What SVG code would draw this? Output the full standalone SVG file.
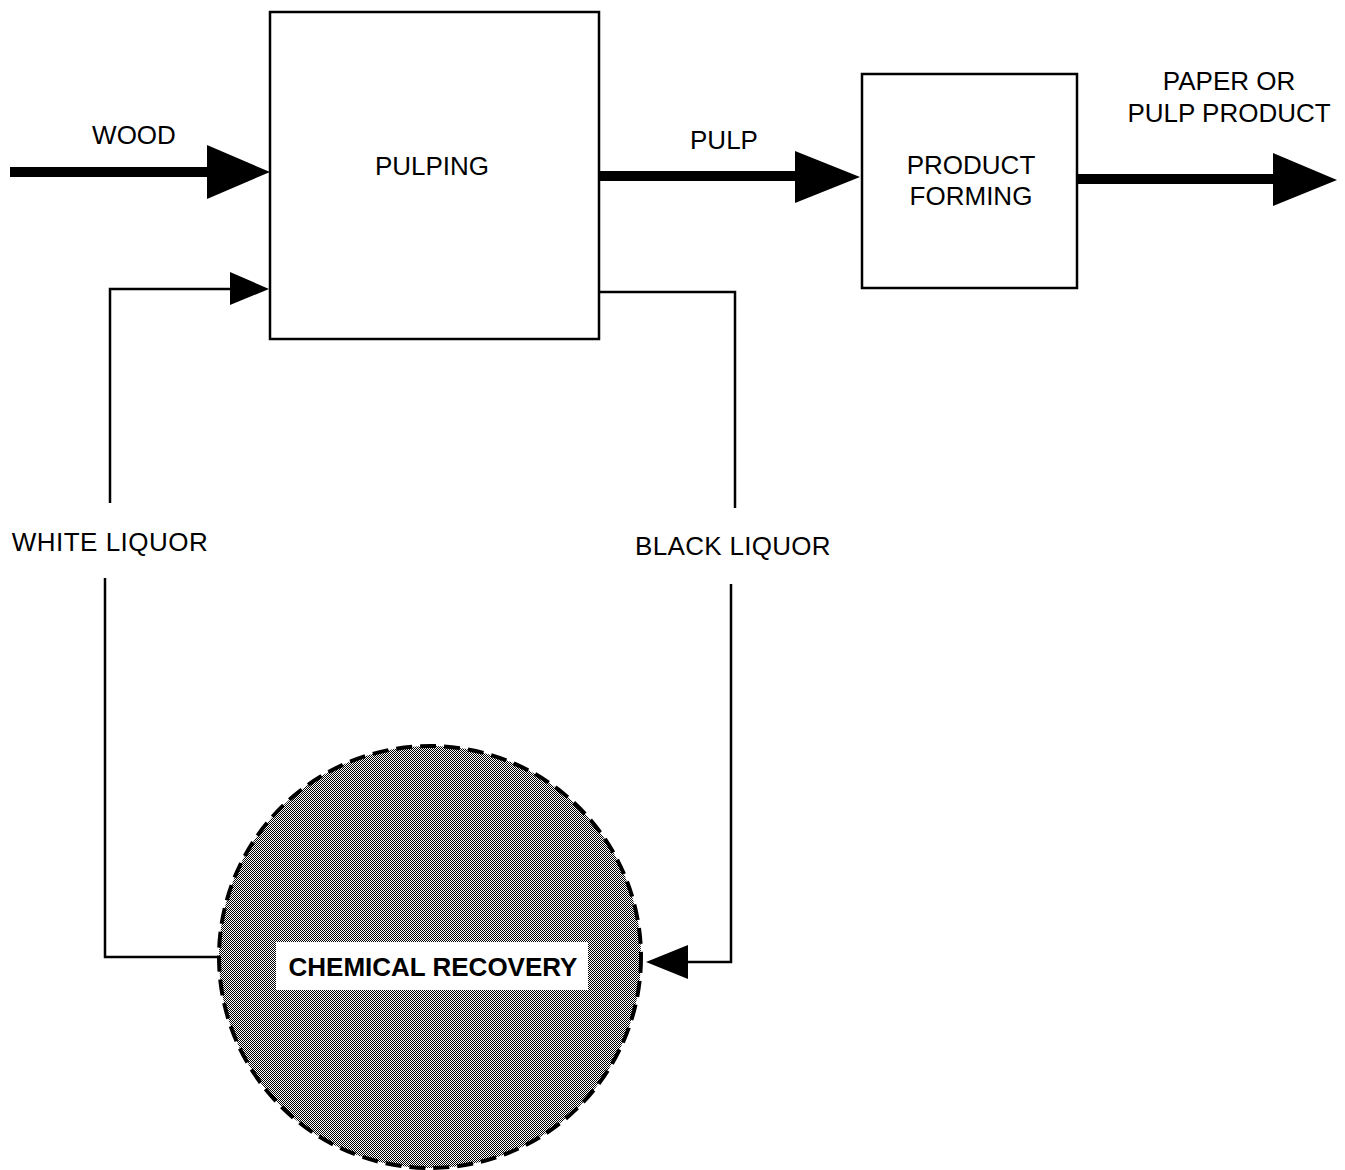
<svg xmlns="http://www.w3.org/2000/svg" width="1345" height="1170" viewBox="0 0 1345 1170">
<style>
text{font-family:"Liberation Sans",Arial,sans-serif;font-size:26px;fill:#000;text-anchor:middle}
.box{fill:#fff;stroke:#000;stroke-width:2.5}
.thick{stroke:#000;stroke-width:10;fill:none}
.thin{stroke:#000;stroke-width:2.5;fill:none}
.head{fill:#000}
</style>
<defs>
<pattern id="chk" width="2" height="2" patternUnits="userSpaceOnUse">
<rect width="2" height="2" fill="#fff"/>
<rect x="0" y="0" width="1" height="1" fill="#000"/>
<rect x="1" y="1" width="1" height="1" fill="#000"/>
</pattern>
</defs>
<rect width="1345" height="1170" fill="#fff"/>
<g id="pulping">
<rect class="box" x="270" y="12" width="329" height="327"/>
<text x="432" y="175">PULPING</text>
</g>
<g id="product-forming">
<rect class="box" x="862" y="74" width="215" height="214"/>
<text x="971" y="174">PRODUCT</text>
<text x="971" y="205">FORMING</text>
</g>
<g id="chemical-recovery">
<circle cx="430" cy="957" r="211" fill="url(#chk)" stroke="#000" stroke-width="4" stroke-dasharray="16 8"/>
<rect x="276" y="942" width="312" height="48" fill="#fff"/>
<text x="433" y="976" font-weight="bold" font-size="26.5">CHEMICAL RECOVERY</text>
</g>
<g id="connectors">
<line class="thick" x1="10" y1="172" x2="210" y2="172"/>
<polygon class="head" points="207,145 270,172 207,199"/>
<line class="thick" x1="599" y1="176" x2="798" y2="176"/>
<polygon class="head" points="795,151 860,177 795,203"/>
<line class="thick" x1="1077" y1="179" x2="1276" y2="179"/>
<polygon class="head" points="1273,153 1337,180 1273,206"/>
<polyline class="thin" points="218,957 105,957 105,578"/>
<polyline class="thin" points="110,503 110,289 232,289"/>
<polygon class="head" points="230,272 269,289 230,305"/>
<polyline class="thin" points="599,292 735,292 735,508"/>
<polyline class="thin" points="731,584 731,962 686,962"/>
<polygon class="head" points="688,945 646,962 688,979"/>
</g>
<g id="labels">
<text x="134" y="144">WOOD</text>
<text x="724" y="149">PULP</text>
<text x="1229" y="90">PAPER OR</text>
<text x="1229" y="122">PULP PRODUCT</text>
<text x="110" y="551" letter-spacing="0.5">WHITE LIQUOR</text>
<text x="733" y="555" letter-spacing="0.3">BLACK LIQUOR</text>
</g>
</svg>
